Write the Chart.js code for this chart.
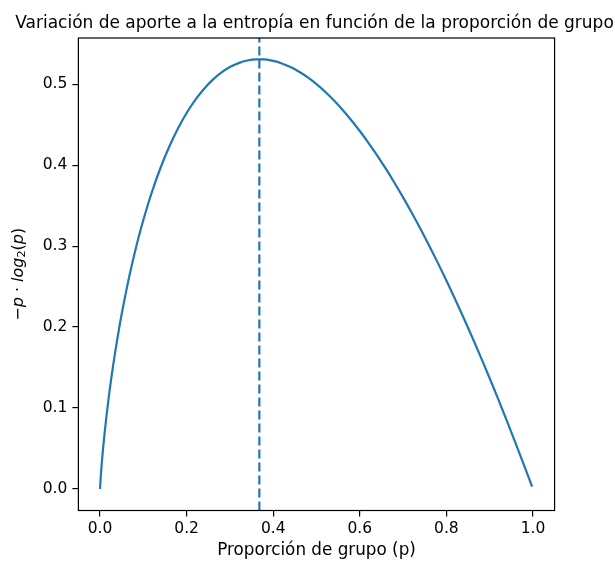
<!DOCTYPE html>
<html>
<head>
<meta charset="utf-8">
<script src="https://cdn.jsdelivr.net/npm/chart.js@4/dist/chart.umd.min.js"></script>
<style>
  html, body { margin: 0; padding: 0; background: #fff; }
  #wrap { width: 615px; height: 563px; }
</style>
</head>
<body>
<div id="wrap"><canvas id="c" width="615" height="563"></canvas></div>
<script>
// ---- data ----
const titleText = "Variación de aporte a la entropía en función de la proporción de grupo";
const xLabel = "Proporción de grupo (p)";
const pValues = [0, 0.001, 0.005, 0.01, 0.02, 0.03, 0.04, 0.05, 0.06, 0.07, 0.08, 0.09, 0.10,
  0.12, 0.14, 0.16, 0.18, 0.20, 0.22, 0.24, 0.26, 0.28, 0.30, 0.32, 0.34, 0.36, 0.38,
  0.40, 0.42, 0.44, 0.46, 0.48, 0.50, 0.52, 0.54, 0.56, 0.58, 0.60, 0.62, 0.64, 0.66, 0.68,
  0.70, 0.72, 0.74, 0.76, 0.78, 0.80, 0.82, 0.84, 0.86, 0.88, 0.90, 0.92, 0.94, 0.96, 0.98, 0.998];
const entropyValues = [0, 0.0100, 0.0382, 0.0664, 0.1129, 0.1518, 0.1858, 0.2161, 0.2435, 0.2686, 0.2915, 0.3127, 0.3322,
  0.3671, 0.3971, 0.4230, 0.4453, 0.4644, 0.4806, 0.4941, 0.5053, 0.5142, 0.5211, 0.5260, 0.5292, 0.5306, 0.5305,
  0.5288, 0.5256, 0.5211, 0.5153, 0.5083, 0.5000, 0.4906, 0.4800, 0.4684, 0.4558, 0.4422, 0.4276, 0.4121, 0.3956, 0.3783,
  0.3602, 0.3412, 0.3215, 0.3009, 0.2796, 0.2575, 0.2348, 0.2113, 0.1871, 0.1623, 0.1368, 0.1107, 0.0839, 0.0565, 0.0286, 0.0029];
const maxP = 0.368;            // position of the dashed vertical line
const xTicks = [0, 0.2, 0.4, 0.6, 0.8, 1.0];
const yTicks = [0, 0.1, 0.2, 0.3, 0.4, 0.5];
const xRange = [-0.05, 1.05];
const yRange = [-0.0265, 0.557];

const BLUE = '#1f77b4';
const FONT = '"DejaVu Sans", "Liberation Sans", sans-serif';

const curve = pValues.map((p, i) => ({ x: p, y: entropyValues[i] }));
const vline = [{ x: maxP, y: yRange[0] }, { x: maxP, y: yRange[1] }];

const decor = {
  id: 'decor',
  afterDraw(chart) {
    const { ctx, chartArea: a } = chart;
    ctx.save();
    // frame
    ctx.strokeStyle = '#000';
    ctx.lineWidth = 1.2;
    ctx.strokeRect(a.left, a.top, a.right - a.left, a.bottom - a.top);
    // title
    ctx.fillStyle = '#000';
    ctx.font = '17px ' + FONT;
    ctx.textAlign = 'center';
    ctx.textBaseline = 'alphabetic';
    ctx.fillText(titleText, (a.left + a.right) / 2 - 2, 28);
    // y label (math text)
    ctx.translate(19, (a.top + a.bottom) / 2);
    ctx.rotate(-Math.PI / 2);
    const S = 16;
    const parts = [
      { t: '\u2212', f: S + 'px ' + FONT, dy: 0 },
      { t: 'p', f: 'oblique ' + S + 'px ' + FONT, dy: 0 },
      { t: ' \u00b7 ', f: S + 'px ' + FONT, dy: 0 },
      { t: 'log', f: 'oblique ' + S + 'px ' + FONT, dy: 0 },
      { t: '2', f: (S * 0.7) + 'px ' + FONT, dy: 3.5 },
      { t: '(', f: S + 'px ' + FONT, dy: 0 },
      { t: 'p', f: 'oblique ' + S + 'px ' + FONT, dy: 0 },
      { t: ')', f: S + 'px ' + FONT, dy: 0 }
    ];
    let total = 0;
    parts.forEach(p => { ctx.font = p.f; p.w = ctx.measureText(p.t).width; total += p.w; });
    let x = -total / 2;
    ctx.textAlign = 'left';
    ctx.textBaseline = 'middle';
    parts.forEach(p => { ctx.font = p.f; ctx.fillText(p.t, x, p.dy); x += p.w; });
    ctx.restore();
  }
};

new Chart(document.getElementById('c'), {
  type: 'line',
  data: {
    datasets: [
      { data: curve, borderColor: BLUE, borderWidth: 2.2, pointRadius: 0, fill: false,
        cubicInterpolationMode: 'monotone' },
      { data: vline, borderColor: BLUE, borderWidth: 2.2, pointRadius: 0, fill: false,
        borderDash: [9, 4] }
    ]
  },
  options: {
    responsive: false,
    devicePixelRatio: 1,
    animation: false,
    layout: { padding: { top: 38, right: 60.4, left: 0, bottom: 0 } },
    plugins: { legend: { display: false }, tooltip: { enabled: false }, title: { display: false } },
    scales: {
      x: {
        type: 'linear', min: xRange[0], max: xRange[1],
        afterFit(s) { s.height = 52.5; },
        afterBuildTicks(s) { s.ticks = xTicks.map(v => ({ value: v })); },
        grid: { display: true, drawOnChartArea: false, drawTicks: true, tickLength: 6, color: '#000', lineWidth: 1.2 },
        border: { display: false },
        ticks: { color: '#000', font: { family: FONT, size: 15.5 }, padding: 3, maxRotation: 0,
          callback: v => v.toFixed(1) },
        title: { display: true, text: xLabel, color: '#000', font: { family: FONT, size: 16.8 },
          padding: { top: 0, bottom: 2 } }
      },
      y: {
        type: 'linear', min: yRange[0], max: yRange[1],
        afterFit(s) { s.width = 78.4; },
        afterBuildTicks(s) { s.ticks = yTicks.map(v => ({ value: v })); },
        grid: { display: true, drawOnChartArea: false, drawTicks: true, tickLength: 6, color: '#000', lineWidth: 1.2 },
        border: { display: false },
        ticks: { color: '#000', font: { family: FONT, size: 15.5 }, padding: 5,
          callback: v => v.toFixed(1) }
      }
    }
  },
  plugins: [decor]
});
</script>
</body>
</html>
